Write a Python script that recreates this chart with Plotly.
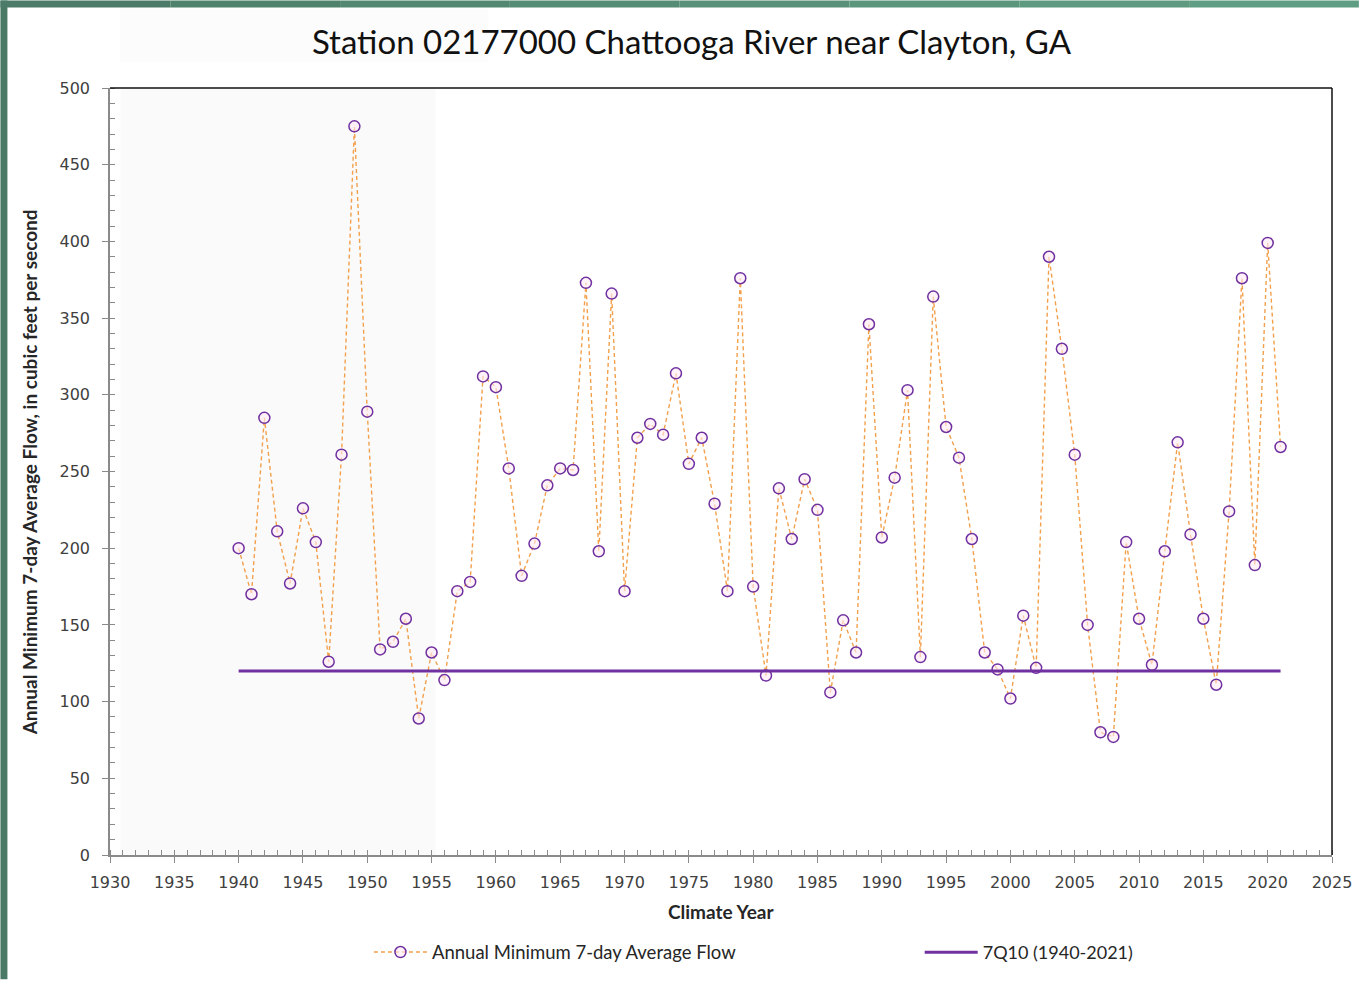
import plotly.graph_objects as go

# ---------------- data ----------------
climate_years = list(range(1940, 2022))
annual_min_7day = [
    200, 170, 285, 211, 177, 226, 204, 126, 261, 475,   # 1940-1949
    289, 134, 139, 154, 89, 132, 114, 172, 178, 312,    # 1950-1959
    305, 252, 182, 203, 241, 252, 251, 373, 198, 366,   # 1960-1969
    172, 272, 281, 274, 314, 255, 272, 229, 172, 376,   # 1970-1979
    175, 117, 239, 206, 245, 225, 106, 153, 132, 346,   # 1980-1989
    207, 246, 303, 129, 364, 279, 259, 206, 132, 121,   # 1990-1999
    102, 156, 122, 390, 330, 261, 150, 80, 77, 204,     # 2000-2009
    154, 124, 198, 269, 209, 154, 111, 224, 376, 189,   # 2010-2019
    399, 266,                                           # 2020-2021
]
q7q10_years = [1940, 2021]
q7q10_values = [120, 120]

title_text = "Station 02177000 Chattooga River near Clayton, GA"
x_title = "Climate Year"
y_title = "Annual Minimum 7-day Average Flow, in cubic feet per second"
name_flow = "Annual Minimum 7-day Average Flow"
name_7q10 = "7Q10 (1940-2021)"

# ---------------- layout geometry (pixels) ----------------
W, H = 1364, 984
L, R, T, B = 110, 1337, 88, 859
PW, PH = R - L, B - T


def px(x):
    return (x - L) / PW


def py(y):
    return (B - y) / PH


fig = go.Figure()

fig.add_trace(go.Scatter(
    x=climate_years, y=annual_min_7day, name=name_flow,
    mode="lines+markers", legend="legend",
    line=dict(color="#F2A04C", width=1.4, dash="4px,3px"),
    marker=dict(symbol="circle", size=11, color="rgba(255,235,245,0.6)",
                line=dict(color="#7030A0", width=1.5)),
))
fig.add_trace(go.Scatter(
    x=q7q10_years, y=q7q10_values, name=name_7q10,
    mode="lines", legend="legend2",
    line=dict(color="#7030A0", width=3),
))

shapes = []
# faint textured background patch (left part of plot)
shapes.append(dict(type="rect", xref="x", yref="paper", x0=1930.8, x1=1955.3,
                   y0=0, y1=1, fillcolor="rgba(0,0,0,0.018)", line_width=0,
                   layer="below"))
shapes.append(dict(type="rect", xref="paper", yref="paper", x0=px(120), x1=px(490),
                   y0=py(62), y1=py(8), fillcolor="rgba(0,0,0,0.012)", line_width=0,
                   layer="below"))
# top & right black borders
shapes.append(dict(type="line", xref="paper", yref="paper", x0=0, x1=1, y0=1, y1=1,
                   line=dict(color="#111111", width=1.5)))
shapes.append(dict(type="line", xref="paper", yref="paper", x0=1, x1=1, y0=0, y1=1,
                   line=dict(color="#111111", width=1.5)))
# green frame (left strip + top strip gradient steps)
shapes.append(dict(type="rect", xref="paper", yref="paper", x0=px(0), x1=px(7),
                   y0=py(H), y1=py(0), fillcolor="#4A7A66", line_width=0))
top_cols = ["#4C7C69", "#4F826D", "#528771", "#558C75", "#589178", "#5B967C",
            "#5D9A7F", "#5F9E82"]
n = len(top_cols)
for i, c in enumerate(top_cols):
    shapes.append(dict(type="rect", xref="paper", yref="paper",
                       x0=px(max(W * i / n, 0)), x1=px(W * (i + 1) / n),
                       y0=py(7), y1=py(0), fillcolor=c, line_width=0))

axis_font = dict(family="DejaVu Sans", size=16, color="#404040")
label_font_family = "Lato, 'Open Sans', sans-serif"

fig.update_layout(
    width=W, height=H, autosize=False,
    margin=dict(l=L, r=W - R, t=T, b=H - B, pad=0),
    paper_bgcolor="white", plot_bgcolor="white",
    title=dict(text=title_text, x=691.5 / W, xref="container", xanchor="center",
               y=1 - 42 / H, yref="container", yanchor="middle",
               font=dict(family=label_font_family, size=33, color="#111111")),
    xaxis=dict(range=[1930, 2025], dtick=5, tick0=1930, showgrid=False,
               zeroline=False, showline=True, linecolor="#8A8A8A", linewidth=1.5,
               ticks="outside", ticklen=6, tickcolor="#8A8A8A", tickwidth=1,
               tickfont=axis_font, ticklabelstandoff=6,
               minor=dict(dtick=1, ticks="inside", ticklen=5, tickcolor="#8A8A8A",
                          showgrid=False)),
    yaxis=dict(range=[0, 500], dtick=50, tick0=0, showgrid=False,
               zeroline=False, showline=True, linecolor="#8A8A8A", linewidth=1.5,
               ticks="outside", ticklen=6, tickcolor="#8A8A8A", tickwidth=1,
               tickfont=axis_font, ticklabelstandoff=9,
               minor=dict(dtick=10, ticks="inside", ticklen=5, tickcolor="#8A8A8A",
                          showgrid=False)),
    showlegend=True,
    legend=dict(orientation="h", x=px(370), xanchor="left", y=py(957),
                yanchor="middle", itemwidth=53,
                font=dict(family=label_font_family, size=18.5, color="#262626"),
                bgcolor="rgba(0,0,0,0)"),
    legend2=dict(orientation="h", x=px(923), xanchor="left", y=py(957),
                 yanchor="middle", itemwidth=53,
                 font=dict(family=label_font_family, size=18, color="#262626"),
                 bgcolor="rgba(0,0,0,0)"),
    shapes=shapes,
    annotations=[
        dict(text=f"<b>{y_title}</b>", xref="paper", yref="paper",
             x=px(30), y=py(474), textangle=-90, showarrow=False,
             xanchor="center", yanchor="middle",
             font=dict(family=label_font_family, size=19, color="#262626")),
        dict(text=f"<b>{x_title}</b>", xref="paper", yref="paper",
             x=px(723), y=py(916), showarrow=False,
             xanchor="center", yanchor="middle",
             font=dict(family=label_font_family, size=19, color="#262626")),
    ],
)

fig.write_html("out.html",
               config={"displayModeBar": False},
               post_script="document.body.style.margin='0';"
                           "document.body.style.overflow='hidden';")
